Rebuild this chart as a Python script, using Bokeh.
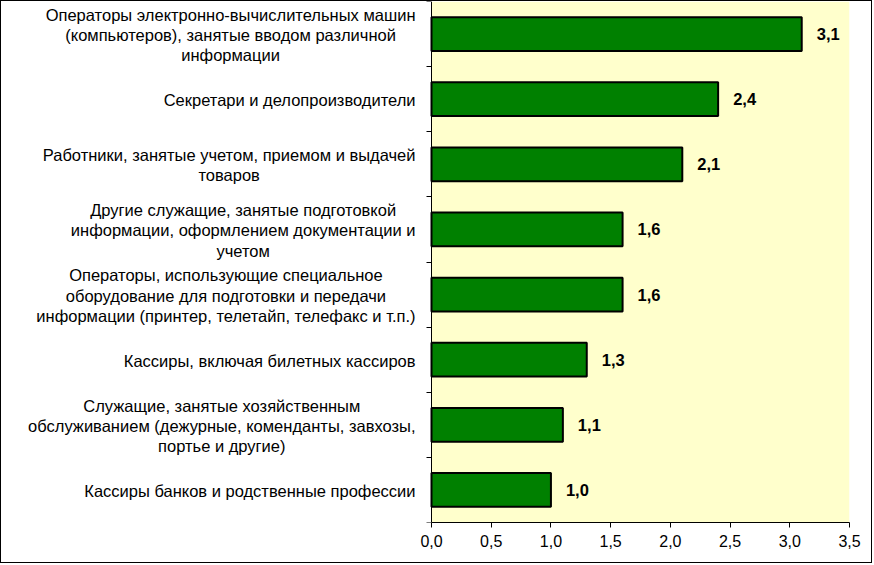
from bokeh.plotting import figure
from bokeh.models import FixedTicker, ColumnDataSource, BoxAnnotation
from bokeh.core.properties import value
from bokeh.embed import file_html
from bokeh.resources import INLINE

categories = [
    "Операторы электронно-вычислительных машин\n(компьютеров), занятые вводом различной\nинформации",
    "Секретари и делопроизводители",
    "Работники, занятые учетом, приемом и выдачей\nтоваров",
    "Другие служащие, занятые подготовкой\nинформации, оформлением документации и\nучетом",
    "Операторы, использующие специальное\nоборудование для подготовки и передачи\nинформации (принтер, телетайп, телефакс и т.п.)",
    "Кассиры, включая билетных кассиров",
    "Служащие, занятые хозяйственным\nобслуживанием (дежурные, коменданты, завхозы,\nпортье и другие)",
    "Кассиры банков и родственные профессии",
]
values = [3.1, 2.4, 2.1, 1.6, 1.6, 1.3, 1.1, 1.0]
value_labels = ["3,1", "2,4", "2,1", "1,6", "1,6", "1,3", "1,1", "1,0"]
x_ticks = [0.0, 0.5, 1.0, 1.5, 2.0, 2.5, 3.0, 3.5]
x_tick_labels = ["0,0", "0,5", "1,0", "1,5", "2,0", "2,5", "3,0", "3,5"]

n = len(categories)
ypos = [n - i - 0.5 for i in range(n)]
x_max = 3.5

FONT = "Liberation Sans"
FONT_PX = 16.5
GAP = 16           # gap between label block and the value axis (px)
LABEL_AREA = 430   # px left of the value axis reserved for category labels
PLOT_W = 418       # px width of the value area

# approximate Arial / Liberation Sans advance widths (per 1000 em)
_W = {' ': 278, ',': 278, '.': 278, '-': 333, '(': 333, ')': 333,
      'а': 556, 'б': 573, 'в': 531, 'г': 365, 'д': 583, 'е': 556, 'ж': 669, 'з': 458,
      'и': 559, 'й': 559, 'к': 438, 'л': 583, 'м': 688, 'н': 552, 'о': 556, 'п': 542,
      'р': 556, 'с': 500, 'т': 458, 'у': 500, 'ф': 823, 'х': 500, 'ц': 573, 'ч': 521,
      'ш': 802, 'щ': 823, 'ъ': 625, 'ы': 719, 'ь': 521, 'э': 510, 'ю': 750, 'я': 542,
      'О': 778, 'С': 667, 'Р': 667, 'Д': 677, 'К': 583}


def text_width(s):
    try:
        import glob
        from PIL import ImageFont
        paths = glob.glob("/usr/share/fonts/**/LiberationSans-Regular.ttf", recursive=True)
        f = ImageFont.truetype(paths[0], size=int(round(FONT_PX * 4)))
        return f.getlength(s) / 4.0
    except Exception:
        return sum(_W.get(ch, 556) for ch in s) * FONT_PX / 1000.0


label_offsets = [-(GAP + max(text_width(s) for s in c.split("\n")) / 2) for c in categories]

src = ColumnDataSource(dict(y=ypos, v=values, lab=value_labels))
cat_src = ColumnDataSource(dict(y=ypos, text=categories, xo=label_offsets, x0=[0] * n))

x_start = -x_max * LABEL_AREA / PLOT_W
p = figure(width=872, height=563, x_range=(x_start, x_max), y_range=(0, n),
           output_backend="svg", toolbar_location=None,
           min_border_left=0, min_border_right=24, min_border_top=0, min_border_bottom=42)
p.styles = {"border": "1px solid black"}
p.background_fill_color = "white"
p.border_fill_color = "white"
p.outline_line_color = None
p.xgrid.visible = False
p.ygrid.visible = False

p.add_layout(BoxAnnotation(left=0, right=x_max, bottom=0, top=n, fill_color="#FFFFCC",
                           fill_alpha=1, line_color=None, level="underlay"))

p.hbar(y="y", right="v", left=0, height=0.52, source=src,
       fill_color="#008000", line_color="black", line_width=2)
p.text(x="v", y="y", text="lab", source=src, x_offset=15,
       text_align="left", text_baseline="middle",
       text_font=value(FONT), text_font_style="bold",
       text_font_size=f"{FONT_PX}px", text_color="black")
p.text(x="x0", y="y", text="text", source=cat_src, x_offset="xo", y_offset=1,
       text_align="center", text_baseline="middle",
       text_font=value(FONT), text_font_size=f"{FONT_PX}px",
       text_color="black", text_line_height=1.12)

p.xaxis.ticker = FixedTicker(ticks=x_ticks)
p.xaxis.bounds = (0, x_max)
p.xaxis.major_label_overrides = {t: l for t, l in zip(x_ticks, x_tick_labels)}
p.xaxis.major_tick_out = 5
p.xaxis.major_tick_in = 0
p.xaxis.minor_tick_out = 0
p.xaxis.minor_tick_in = 0
p.xaxis.axis_line_color = "black"
p.xaxis.major_label_text_font = FONT
p.xaxis.major_label_text_font_size = "16px"
p.xaxis.major_label_text_color = "black"
p.xaxis.major_label_standoff = 7

p.yaxis.fixed_location = 0
p.yaxis.ticker = FixedTicker(ticks=[], minor_ticks=list(range(n + 1)))
p.yaxis.major_tick_out = 0
p.yaxis.major_tick_in = 0
p.yaxis.minor_tick_out = 5
p.yaxis.minor_tick_in = 0
p.yaxis.axis_line_color = "black"
p.yaxis.major_label_text_font_size = "0px"

open("out.html", "w").write(file_html(p, INLINE))
